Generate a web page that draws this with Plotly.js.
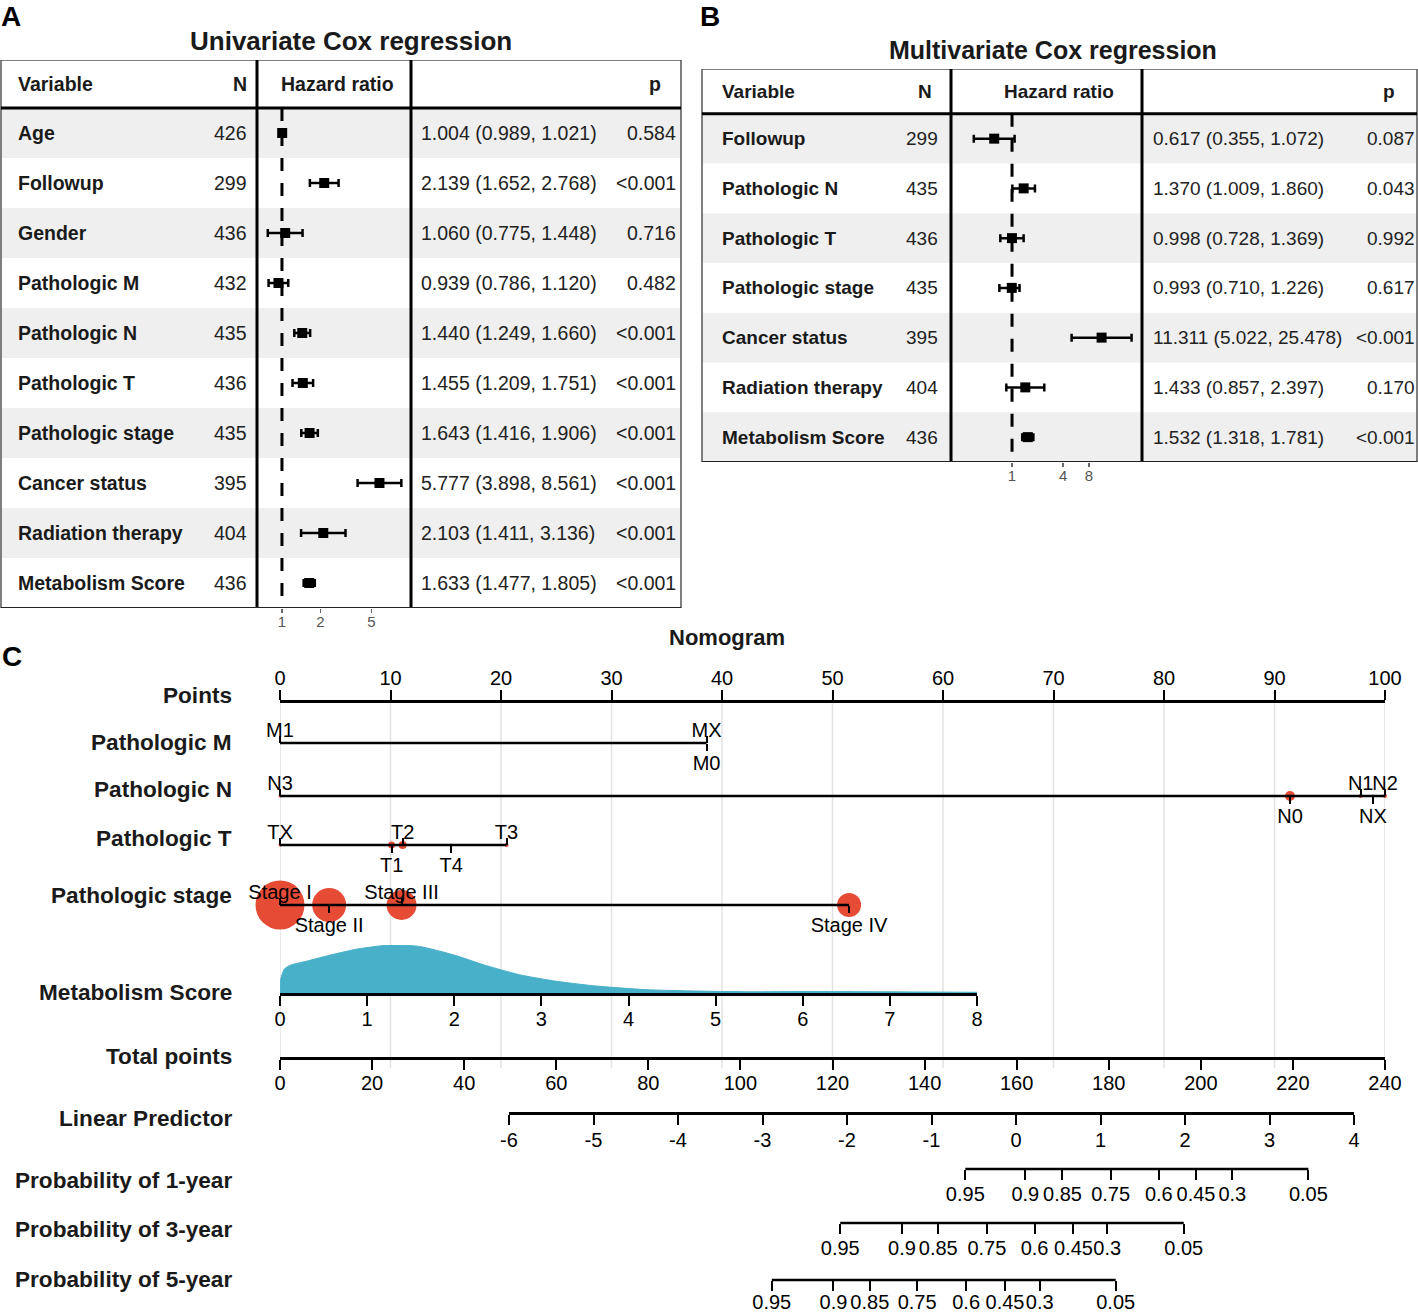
<!DOCTYPE html>
<html><head><meta charset="utf-8">
<script src="https://cdn.plot.ly/plotly-3.0.1.min.js"></script>
<style>html,body{margin:0;padding:0;background:#fff}</style>
</head><body><div id="chart" style="width:1418px;height:1314px"></div>
<script>
// ================= DATA =================
// Panel A: univariate Cox regression
const uniVars = ["Age","Followup","Gender","Pathologic M","Pathologic N","Pathologic T","Pathologic stage","Cancer status","Radiation therapy","Metabolism Score"];
const uniN   = [426,299,436,432,435,436,435,395,404,436];
const uniHR  = [1.004,2.139,1.060,0.939,1.440,1.455,1.643,5.777,2.103,1.633];
const uniLo  = [0.989,1.652,0.775,0.786,1.249,1.209,1.416,3.898,1.411,1.477];
const uniHi  = [1.021,2.768,1.448,1.120,1.660,1.751,1.906,8.561,3.136,1.805];
const uniP   = ["0.584","<0.001","0.716","0.482","<0.001","<0.001","<0.001","<0.001","<0.001","<0.001"];
const uniTicks = [1,2,5];

// Panel B: multivariate Cox regression
const multiVars = ["Followup","Pathologic N","Pathologic T","Pathologic stage","Cancer status","Radiation therapy","Metabolism Score"];
const multiN  = [299,435,436,435,395,404,436];
const multiHR = [0.617,1.370,0.998,0.993,11.311,1.433,1.532];
const multiLo = [0.355,1.009,0.728,0.710,5.022,0.857,1.318];
const multiHi = [1.072,1.860,1.369,1.226,25.478,2.397,1.781];
const multiP  = ["0.087","0.043","0.992","0.617","<0.001","0.170","<0.001"];
const multiTicks = [1,4,8];

// Panel C: nomogram
const pointsTicks = [0,10,20,30,40,50,60,70,80,90,100];
const mLevels = ["M1","MX","M0"];
const mScore  = [0,38.6,38.6];
const nLevels = ["N3","N0","N1","NX","N2"];
const nScore  = [0,91.4,97.8,98.9,100];
const tLevels = ["TX","T1","T2","T4","T3"];
const tScore  = [0,10.1,11.1,15.5,20.5];
const stageLevels = ["Stage I","Stage II","Stage III","Stage IV"];
const stageScore  = [0,4.45,11.0,51.5];
const metabTicks = [0,1,2,3,4,5,6,7,8];
const metabScore   = [0,0.01,0.05,0.12,0.3,0.6,0.9,1.27,1.6,2.0,2.35,2.75,3.15,3.6,4.2,4.8,5.4,6.0,6.9,8.0];
const metabDensity = [0,0.30,0.50,0.58,0.66,0.80,0.92,1.0,0.97,0.79,0.58,0.38,0.25,0.15,0.07,0.04,0.025,0.03,0.025,0.015];
const totalTicks = [0,20,40,60,80,100,120,140,160,180,200,220,240];
const lpTicks = [-6,-5,-4,-3,-2,-1,0,1,2,3,4];
const probLabels = ["0.95","0.9","0.85","0.75","0.6","0.45","0.3","0.05"];
const prob1LP = [-0.60,0.11,0.55,1.12,1.69,2.13,2.56,3.46];
const prob3LP = [-2.08,-1.35,-0.92,-0.345,0.22,0.68,1.08,1.985];
const prob5LP = [-2.89,-2.16,-1.73,-1.17,-0.59,-0.13,0.28,1.18];

// ================= STYLE / LAYOUT =================
const W = 1418, H = 1314;
const fx = px => px / W;
const fy = py => 1 - py / H;
const FONT = "Liberation Sans, Arial, Helvetica, sans-serif";
const RED = "#E64B35", TEAL = "#48B0C9";
const mSide = ["top","top","bottom"];
const nSide = ["top","bottom","top","bottom","top"];
const tSide = ["top","bottom","top","bottom","top"];
const stageSide = ["top","bottom","top","bottom"];
const nDot = [3,10,4,3,4];
const tDot = [3,7,8,3,4];
const stageDot = [49,34,30,24];
const ROW = {points:701, M:743, N:796, T:845, S:905, metab:993, total:1058, lp:1113, p1:1169, p3:1223, p5:1280};

const layout = {
  width:W, height:H, margin:{l:0,r:0,t:0,b:0},
  paper_bgcolor:'#ffffff', plot_bgcolor:'rgba(0,0,0,0)', showlegend:false,
  font:{family:FONT, color:'#000'}, shapes:[], annotations:[], hovermode:false
};
const traces = [];

function ann(text, x, y, opt) {
  layout.annotations.push(Object.assign({
    text:text, x:x, y:y, xref:'paper', yref:'paper', showarrow:false,
    xanchor:'left', yanchor:'middle', font:{family:FONT, size:20, color:'#1a1a1a'}
  }, opt || {}));
}

// ---------- forest plots ----------
function addForest(o) {
  const n = o.vars.length;
  const xr = o.id === 1 ? 'x' : 'x' + o.id, yr = o.id === 1 ? 'y' : 'y' + o.id;
  const xk = o.id === 1 ? 'xaxis' : 'xaxis' + o.id, yk = o.id === 1 ? 'yaxis' : 'yaxis' + o.id;
  layout[xk] = {type:'log', domain:[fx(o.sep1), fx(o.sep2)], range:o.logRange, anchor:yr,
    tickvals:o.ticks, ticktext:o.ticks.map(String), ticks:'outside', ticklen:4, tickwidth:1.5,
    tickcolor:'#666', tickfont:{family:FONT, size:15, color:'#555'}, ticklabelstandoff:-4,
    showgrid:false, zeroline:false, showline:false, fixedrange:true, tickangle:0};
  layout[yk] = {domain:[fy(o.bottom), fy(o.top)], range:[n-0.5, o.topRow], visible:false, anchor:xr, fixedrange:true};
  for (let i = 0; i < n; i += 2) {
    layout.shapes.push({type:'rect', xref:'paper', yref:yr, x0:fx(o.left), x1:fx(o.right), y0:i-0.5, y1:i+0.5,
      fillcolor:'#efefef', line:{width:0}, layer:'below'});
  }
  layout.shapes.push({type:'rect', xref:'paper', yref:yr, x0:fx(o.left), x1:fx(o.right), y0:o.topRow, y1:n-0.5,
    line:{color:'#555', width:1.5}, fillcolor:'rgba(0,0,0,0)', layer:'above'});
  [o.sep1, o.sep2].forEach(s => layout.shapes.push({type:'line', xref:'paper', yref:yr, x0:fx(s), x1:fx(s),
    y0:o.topRow, y1:n-0.5, line:{color:'#000', width:3}, layer:'above'}));
  layout.shapes.push({type:'line', xref:'paper', yref:yr, x0:fx(o.left), x1:fx(o.right), y0:-0.5, y1:-0.5,
    line:{color:'#000', width:3}, layer:'above'});
  layout.shapes.push({type:'line', xref:'paper', yref:yr, x0:fx(o.left), x1:fx(o.right), y0:n-0.5, y1:n-0.5,
    line:{color:'#222', width:2}, layer:'above'});

  traces.push({type:'scatter', mode:'lines', x:[1,1], y:[-0.5, n-0.5], xaxis:xr, yaxis:yr,
    line:{color:'#000', width:3, dash:'13px,12px'}, hoverinfo:'skip'});
  traces.push({type:'scatter', mode:'markers', x:o.hr, y:o.vars.map((_, i) => i), xaxis:xr, yaxis:yr,
    marker:{symbol:'square', size:10, color:'#000', opacity:1}, cliponaxis:false, hoverinfo:'skip',
    error_x:{type:'data', symmetric:false, array:o.hi.map((h, i) => h - o.hr[i]),
      arrayminus:o.hr.map((v, i) => v - o.lo[i]), color:'#000', thickness:2.5, width:4}});

  const fs = o.fontSize;
  const hdr = {yref:yr, font:{family:FONT, size:fs, color:'#1a1a1a'}};
  ann('<b>Variable</b>', fx(o.nameX), o.hdrY, Object.assign({}, hdr));
  ann('<b>N</b>', fx(o.hdrN), o.hdrY, Object.assign({}, hdr, {xanchor:'right'}));
  ann('<b>Hazard ratio</b>', fx(o.hdrHR), o.hdrY, Object.assign({}, hdr, {xanchor:'center'}));
  ann('<b>p</b>', fx(o.hdrP), o.hdrY, Object.assign({}, hdr, {xanchor:'right'}));
  o.vars.forEach((v, i) => {
    const base = {yref:yr, font:{family:FONT, size:fs, color:'#1a1a1a'}};
    ann('<b>' + v + '</b>', fx(o.nameX), i, Object.assign({}, base));
    ann(String(o.nn[i]), fx(o.nRight), i, Object.assign({}, base, {xanchor:'right', font:{family:FONT, size:fs, color:'#222'}}));
    const txt = o.hr[i].toFixed(3) + ' (' + o.lo[i].toFixed(3) + ', ' + o.hi[i].toFixed(3) + ')';
    ann(txt, fx(o.hrX), i, Object.assign({}, base, {font:{family:FONT, size:fs, color:'#222'}}));
    ann(o.p[i], fx(o.pRight), i, Object.assign({}, base, {xanchor:'right', font:{family:FONT, size:fs, color:'#222'}}));
  });
}

addForest({id:1, vars:uniVars, nn:uniN, hr:uniHR, lo:uniLo, hi:uniHi, p:uniP, ticks:uniTicks,
  left:1, right:681, sep1:257, sep2:411, top:60, bottom:608, topRow:-1.46, hdrY:-0.98,
  logRange:[-0.195, 1.008], nameX:16, nRight:249, hrX:419, pRight:678, hdrN:249, hdrHR:337, hdrP:663, fontSize:19.5});
addForest({id:2, vars:multiVars, nn:multiN, hr:multiHR, lo:multiLo, hi:multiHi, p:multiP, ticks:multiTicks,
  left:702, right:1417, sep1:951, sep2:1142, top:69, bottom:462, topRow:-1.4, hdrY:-0.95,
  logRange:[-0.718, 1.529], nameX:720, nRight:940, hrX:1151, pRight:1417, hdrN:934, hdrHR:1059, hdrP:1397, fontSize:19});

// titles & panel letters
ann('<b>A</b>', fx(-1), fy(16), {font:{family:FONT, size:28, color:'#000'}});
ann('<b>B</b>', fx(698), fy(16), {font:{family:FONT, size:28, color:'#000'}});
ann('<b>C</b>', fx(0), fy(656), {font:{family:FONT, size:28, color:'#000'}});
ann('<b>Univariate Cox regression</b>', fx(351), fy(41), {xanchor:'center', font:{family:FONT, size:26, color:'#1a1a1a'}});
ann('<b>Multivariate Cox regression</b>', fx(1053), fy(50), {xanchor:'center', font:{family:FONT, size:25, color:'#1a1a1a'}});
ann('<b>Nomogram</b>', fx(727), fy(638), {xanchor:'center', font:{family:FONT, size:22, color:'#1a1a1a'}});

// ---------- nomogram ----------
const ptsDomain = [fx(280), fx(1385)];
layout.yaxis3 = {domain:[0,1], range:[H,0], visible:false, fixedrange:true, anchor:'free', position:0};
const tickFont = {family:FONT, size:20, color:'#000'};
const axBase = {showgrid:false, zeroline:false, fixedrange:true, ticks:'outside', tickcolor:'#000',
  tickwidth:2, tickangle:0, tickfont:tickFont};

// Points axis
layout.xaxis3 = Object.assign({}, axBase, {domain:ptsDomain, range:[0,100], anchor:'free', position:fy(ROW.points),
  side:'top', tickvals:pointsTicks, ticklen:10, ticklabelstandoff:-3, showline:true, linewidth:2.5, linecolor:'#000'});

// grid lines at points ticks
traces.push({type:'scatter', mode:'lines', xaxis:'x3', yaxis:'y3', hoverinfo:'skip',
  x:pointsTicks.flatMap(t => [t, t, null]), y:pointsTicks.flatMap(() => [690, 1068, null]),
  line:{color:'#e2e2e2', width:1.5}});

// categorical rows
let axId = 10;
function catRow(levels, score, side, dots, rowY) {
  if (dots) {
    traces.push({type:'scatter', mode:'markers', xaxis:'x3', yaxis:'y3', x:score, y:score.map(() => rowY),
      marker:{size:dots, color:RED, opacity:1, line:{width:0}}, cliponaxis:false, hoverinfo:'skip'});
  }
  layout.shapes.push({type:'line', xref:'x3', yref:'y3', x0:Math.min(...score), x1:Math.max(...score),
    y0:rowY, y1:rowY, line:{color:'#000', width:2.5}, layer:'above'});
  ['top','bottom'].forEach(sd => {
    const idx = levels.map((_, i) => i).filter(i => side[i] === sd);
    if (!idx.length) return;
    const id = axId++;
    layout['xaxis' + id] = Object.assign({}, axBase, {domain:ptsDomain, range:[0,100], anchor:'free',
      position:fy(rowY), side:sd, tickvals:idx.map(i => score[i]), ticktext:idx.map(i => levels[i]),
      ticklen:7, ticklabelstandoff:(sd === 'top' ? -9 : -5), showline:false});
    traces.push({type:'scatter', mode:'markers', xaxis:'x' + id, yaxis:'y3', x:[0], y:[0],
      marker:{opacity:0, size:1}, hoverinfo:'skip'});
  });
}
catRow(mLevels, mScore, mSide, null, ROW.M);
catRow(nLevels, nScore, nSide, nDot, ROW.N);
catRow(tLevels, tScore, tSide, tDot, ROW.T);
catRow(stageLevels, stageScore, stageSide, stageDot, ROW.S);

// Metabolism score density + axis
layout.yaxis4 = {domain:[fy(ROW.metab), fy(945)], range:[0,1], visible:false, fixedrange:true, anchor:'x4'};
layout.xaxis4 = Object.assign({}, axBase, {domain:[fx(280), fx(977)], range:[0,8], anchor:'y4', side:'bottom',
  tickvals:metabTicks, ticklen:10, ticklabelstandoff:-4, showline:true, linewidth:2.5, linecolor:'#000'});
traces.push({type:'scatter', mode:'lines', xaxis:'x4', yaxis:'y4', x:metabScore, y:metabDensity,
  fill:'tozeroy', fillcolor:TEAL, line:{color:TEAL, width:1, shape:'spline', smoothing:0.6}, hoverinfo:'skip'});

// Total points
layout.xaxis5 = Object.assign({}, axBase, {domain:ptsDomain, range:[0,240], anchor:'free', position:fy(ROW.total),
  side:'bottom', tickvals:totalTicks, ticklen:10, ticklabelstandoff:-4, showline:true, linewidth:2.5, linecolor:'#000'});
// Linear predictor
layout.xaxis6 = Object.assign({}, axBase, {domain:[fx(509), fx(1354)], range:[-6,4], anchor:'free', position:fy(ROW.lp),
  side:'bottom', tickvals:lpTicks, ticktext:lpTicks.map(String), ticklen:10, ticklabelstandoff:-2,
  showline:true, linewidth:2.5, linecolor:'#000'});
// Probability axes (share the linear-predictor scale)
[[7, prob1LP, ROW.p1, -3], [8, prob3LP, ROW.p3, -3], [9, prob5LP, ROW.p5, -6]].forEach(([id, lp, rowY, so]) => {
  layout['xaxis' + id] = Object.assign({}, axBase, {domain:[fx(509), fx(1354)], range:[-6,4], anchor:'free',
    position:fy(rowY), side:'bottom', tickvals:lp, ticktext:probLabels, ticklen:10, ticklabelstandoff:so, showline:false});
  layout.shapes.push({type:'line', xref:'x' + id, yref:'y3', x0:Math.min(...lp), x1:Math.max(...lp),
    y0:rowY, y1:rowY, line:{color:'#000', width:2.5}, layer:'above'});
});
[5,6,7,8,9].forEach(id => traces.push({type:'scatter', mode:'markers', xaxis:'x' + id, yaxis:'y3',
  x:[id === 5 ? 0 : -6], y:[0], marker:{opacity:0, size:1}, hoverinfo:'skip'}));

// row labels
const rowLabels = [["Points",695],["Pathologic M",742],["Pathologic N",789],["Pathologic T",838],
  ["Pathologic stage",895],["Metabolism Score",992],["Total points",1056],["Linear Predictor",1118],
  ["Probability of 1-year",1180],["Probability of 3-year",1229],["Probability of 5-year",1279]];
rowLabels.forEach(([t, y]) => ann('<b>' + t + '</b>', fx(234), fy(y),
  {xanchor:'right', font:{family:FONT, size:22.6, color:'#1a1a1a'}}));

Plotly.newPlot('chart', traces, layout, {staticPlot:true, displayModeBar:false});
</script>
</body></html>
